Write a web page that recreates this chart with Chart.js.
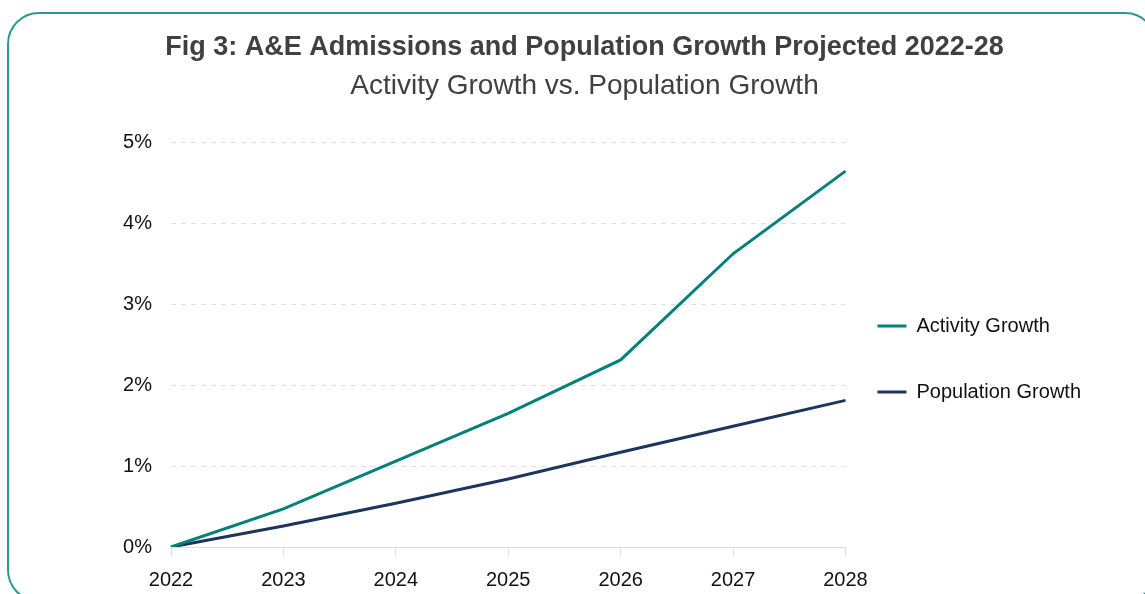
<!DOCTYPE html>
<html>
<head>
<meta charset="utf-8">
<script src="https://cdn.jsdelivr.net/npm/chart.js@4"></script>
<style>
  html, body { margin: 0; padding: 0; background: #fff; overflow: hidden; }
  #frame {
    position: absolute; left: 7px; top: 12px; width: 1150px; height: 590px;
    border: 2px solid #2a9a92; border-radius: 32px; box-sizing: border-box;
  }
  #wrap { position: absolute; left: 0; top: 0; width: 1145px; height: 594px; }
</style>
</head>
<body>
<div id="frame"></div>
<div id="wrap"><canvas id="mygraph"></canvas></div>
<script>
const years = ['2022', '2023', '2024', '2025', '2026', '2027', '2028']
const activityGrowth = [0, 0.47, 1.06, 1.65, 2.31, 3.62, 4.64]     // % vs 2022
const populationGrowth = [0, 0.26, 0.54, 0.84, 1.17, 1.49, 1.81]
const yTicks = [0, 1, 2, 3, 4, 5]

const FONT = 'Liberation Sans'

// legend rows need a big gap, but the legend should sit closer to the plot
const legendNudge = {
  id: 'legendNudge',
  afterLayout(chart) {
    chart.legend.left -= 14
    chart.legend.right -= 14
  }
}

const data = {
  labels: years,
  datasets: [{
    label: 'Activity Growth',
    data: activityGrowth,
    borderColor: '#00817a',
    backgroundColor: '#00817a',
    borderWidth: 3,
    pointRadius: 0,
    tension: 0
  }, {
    label: 'Population Growth',
    data: populationGrowth,
    borderColor: '#1c355f',
    backgroundColor: '#1c355f',
    borderWidth: 3,
    pointRadius: 0,
    tension: 0
  }]
}

const config = {
  type: 'line',
  data,
  plugins: [legendNudge],
  options: {
    responsive: true,
    maintainAspectRatio: false,
    animation: false,
    layout: { padding: { top: 31, left: 64, right: 40, bottom: -10 } },
    plugins: {
      title: {
        display: true,
        text: 'Fig 3: A&E Admissions and Population Growth Projected 2022-28',
        color: '#404040',
        font: { family: FONT, size: 27, weight: 'bold' },
        padding: { top: 0, bottom: 6 }
      },
      subtitle: {
        display: true,
        text: 'Activity Growth vs. Population Growth',
        color: '#404040',
        font: { family: FONT, size: 28 },
        padding: { top: 0, bottom: 39 }
      },
      legend: {
        position: 'right',
        align: 'center',
        title: { display: true, text: '', font: { size: 1 }, padding: { top: 82, bottom: 0 } },
        labels: {
          usePointStyle: true,
          pointStyle: 'line',
          pointStyleWidth: 29,
          color: '#111',
          padding: 46,
          font: { family: FONT, size: 20 }
        }
      },
      tooltip: { enabled: false }
    },
    scales: {
      x: {
        grid: { drawOnChartArea: false, color: '#dddddd', tickLength: 9 },
        border: { color: '#dddddd' },
        ticks: { color: '#111', padding: 12, font: { family: FONT, size: 20 }, maxRotation: 0 }
      },
      y: {
        min: 0,
        max: 5,
        afterBuildTicks: axis => { axis.ticks = yTicks.map(v => ({ value: v })) },
        afterFit: axis => { axis.width = 107 },
        grid: { color: '#e0e0e0', drawTicks: false },
        border: { display: false, dash: [5, 5] },
        ticks: {
          color: '#111',
          padding: 19,
          font: { family: FONT, size: 20 },
          callback: v => v + '%'
        }
      }
    }
  }
}

const mygraph = new Chart(document.getElementById('mygraph'), config)
</script>
</body>
</html>
